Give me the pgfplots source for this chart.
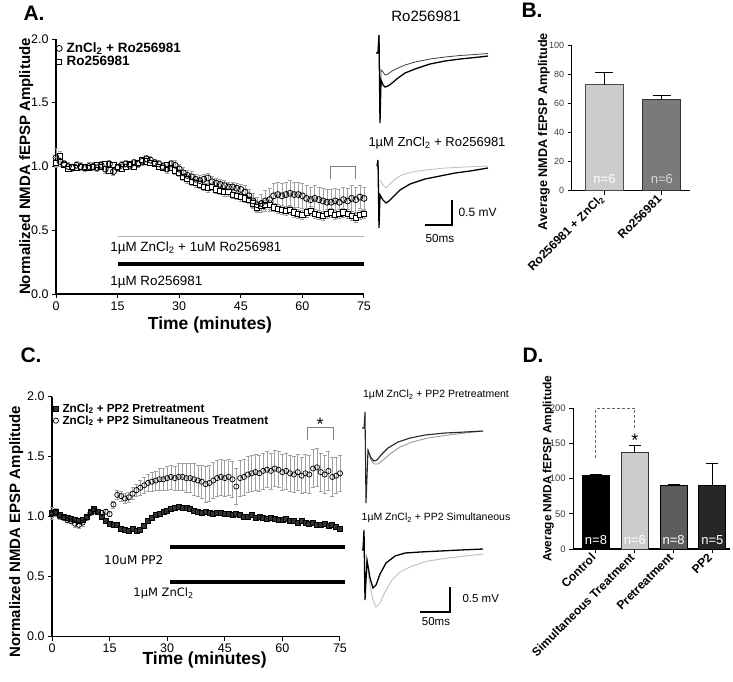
\documentclass[border=0pt]{standalone}
\usepackage{fontspec}
\setmainfont{Liberation Sans}
\newfontfamily\dejavu{DejaVu Sans}
\usepackage{pgfplots}
\usepackage{pgfplotstable}
\pgfplotsset{compat=1.18}
\newcommand{\fs}[1]{\fontsize{#1}{#1}\selectfont}
\definecolor{barlt}{HTML}{CCCCCC}
\definecolor{bardk}{HTML}{7A7A7A}
\definecolor{barpre}{HTML}{5C5C5C}
\definecolor{barpp}{HTML}{262626}
\definecolor{errg}{HTML}{A0A0A0}

\pgfplotstableread{
t a ea b eb
0 1.07 0.07 1.03 0.04
1 1.04 0.04 1.08 0.04
2 1.02 0.03 1.01 0.02
3 1.00 0.03 0.98 0.02
4 0.99 0.03 1.00 0.02
5 1.01 0.03 0.99 0.02
6 1.00 0.03 1.00 0.02
7 0.99 0.03 1.00 0.02
8 1.00 0.03 0.99 0.02
9 1.00 0.03 1.00 0.02
10 0.99 0.03 1.01 0.02
11 1.01 0.03 1.00 0.02
12 0.98 0.03 1.02 0.02
13 1.02 0.03 0.97 0.02
14 0.96 0.03 1.01 0.02
15 0.99 0.03 1.00 0.02
16 1.01 0.03 0.98 0.02
17 1.02 0.03 1.00 0.02
18 1.01 0.03 1.02 0.02
19 1.03 0.03 1.00 0.02
20 1.02 0.03 1.03 0.02
21 1.04 0.03 1.05 0.02
22 1.06 0.03 1.04 0.02
23 1.05 0.03 1.03 0.02
24 1.03 0.03 1.02 0.02
25 1.02 0.03 1.00 0.02
26 1.00 0.03 0.99 0.02
27 0.98 0.03 1.01 0.02
28 1.02 0.03 0.99 0.02
29 1.01 0.04 0.97 0.03
30 0.98 0.04 0.95 0.03
31 0.95 0.04 0.92 0.03
32 0.93 0.04 0.90 0.03
33 0.92 0.04 0.88 0.03
34 0.90 0.04 0.87 0.03
35 0.89 0.04 0.86 0.03
36 0.90 0.04 0.84 0.03
37 0.91 0.04 0.83 0.03
38 0.88 0.04 0.84 0.03
39 0.87 0.04 0.82 0.03
40 0.86 0.04 0.81 0.03
41 0.85 0.04 0.80 0.03
42 0.84 0.04 0.80 0.03
43 0.84 0.04 0.78 0.03
44 0.83 0.04 0.77 0.03
45 0.82 0.04 0.76 0.03
46 0.80 0.05 0.75 0.03
47 0.77 0.05 0.74 0.03
48 0.73 0.06 0.71 0.03
49 0.70 0.06 0.68 0.035
50 0.71 0.07 0.69 0.035
51 0.73 0.08 0.70 0.035
52 0.74 0.09 0.70 0.035
53 0.77 0.10 0.68 0.035
54 0.78 0.10 0.67 0.035
55 0.77 0.10 0.66 0.035
56 0.78 0.10 0.65 0.035
57 0.79 0.10 0.66 0.035
58 0.78 0.10 0.64 0.035
59 0.78 0.10 0.63 0.035
60 0.77 0.10 0.62 0.035
61 0.75 0.10 0.64 0.035
62 0.74 0.10 0.65 0.035
63 0.75 0.10 0.63 0.035
64 0.74 0.10 0.62 0.035
65 0.73 0.10 0.61 0.035
66 0.72 0.10 0.63 0.035
67 0.72 0.10 0.64 0.035
68 0.73 0.10 0.62 0.035
69 0.72 0.10 0.63 0.035
70 0.74 0.10 0.64 0.035
71 0.73 0.10 0.63 0.035
72 0.75 0.10 0.61 0.035
73 0.74 0.10 0.60 0.035
74 0.76 0.09 0.62 0.035
75 0.75 0.09 0.63 0.035
}\tabA

\pgfplotstableread{
t p ep s es
0 1.03 0.05 1.02 0.03
1 1.04 0.03 1.03 0.03
2 1.01 0.02 1.00 0.02
3 1.00 0.02 0.99 0.02
4 0.99 0.02 0.97 0.02
5 0.98 0.02 0.96 0.02
6 0.97 0.02 0.94 0.03
7 0.96 0.02 0.93 0.03
8 0.97 0.02 0.95 0.03
9 1.00 0.02 0.99 0.02
10 1.04 0.02 1.03 0.02
11 1.06 0.02 1.05 0.02
12 1.04 0.02 1.04 0.02
13 1.00 0.02 1.03 0.02
14 0.96 0.02 1.04 0.02
15 0.94 0.02 1.02 0.02
16 0.93 0.02 1.10 0.03
17 0.93 0.02 1.18 0.04
18 0.90 0.02 1.17 0.04
19 0.89 0.02 1.15 0.04
20 0.88 0.02 1.16 0.04
21 0.90 0.02 1.19 0.05
22 0.88 0.02 1.22 0.05
23 0.89 0.02 1.24 0.06
24 0.92 0.02 1.26 0.07
25 0.96 0.02 1.28 0.07
26 0.99 0.02 1.29 0.08
27 1.01 0.02 1.30 0.08
28 1.02 0.02 1.31 0.09
29 1.04 0.02 1.31 0.09
30 1.05 0.02 1.32 0.10
31 1.06 0.02 1.33 0.10
32 1.07 0.02 1.32 0.10
33 1.08 0.02 1.33 0.11
34 1.07 0.02 1.33 0.11
35 1.07 0.02 1.32 0.12
36 1.06 0.02 1.32 0.12
37 1.05 0.02 1.31 0.13
38 1.04 0.02 1.30 0.13
39 1.03 0.02 1.29 0.14
40 1.04 0.02 1.27 0.15
41 1.03 0.02 1.28 0.15
42 1.02 0.02 1.30 0.15
43 1.03 0.02 1.32 0.15
44 1.03 0.02 1.33 0.15
45 1.02 0.02 1.32 0.15
46 1.02 0.02 1.33 0.15
47 1.01 0.02 1.31 0.15
48 1.02 0.02 1.25 0.15
49 1.01 0.02 1.32 0.15
50 1.00 0.02 1.33 0.15
51 1.00 0.02 1.35 0.15
52 1.01 0.02 1.36 0.15
53 0.99 0.02 1.37 0.15
54 1.00 0.02 1.36 0.15
55 0.99 0.02 1.38 0.15
56 0.98 0.02 1.39 0.15
57 0.99 0.02 1.38 0.15
58 0.98 0.02 1.40 0.15
59 0.97 0.02 1.39 0.15
60 0.97 0.02 1.37 0.15
61 0.98 0.02 1.38 0.15
62 0.96 0.02 1.36 0.15
63 0.96 0.02 1.35 0.15
64 0.95 0.02 1.37 0.15
65 0.96 0.02 1.34 0.15
66 0.95 0.02 1.36 0.16
67 0.94 0.02 1.35 0.16
68 0.95 0.02 1.40 0.16
69 0.93 0.02 1.41 0.16
70 0.93 0.02 1.37 0.16
71 0.94 0.02 1.35 0.16
72 0.92 0.02 1.38 0.16
73 0.93 0.02 1.33 0.16
74 0.91 0.02 1.34 0.15
75 0.90 0.02 1.36 0.15
}\tabC

\pgfplotsset{
  panel/.style={scale only axis, axis lines*=left,
    axis line style={-, line width=1.1pt},
    tick align=outside, tick pos=left, major tick length=4pt,
    tick style={black, line width=1pt},
    /pgf/number format/assume math mode=true, clip=false},
  errs/.style={error bars/.cd, y dir=both, y explicit,
    error bar style={errg, line width=0.6pt},
    error mark options={rotate=90, errg, mark size=2pt, line width=0.6pt}},
  barerr/.style={error bars/.cd, y dir=plus, y explicit,
    error bar style={black, line width=1pt},
    error mark options={rotate=90, black, mark size=#1, line width=1pt}},
}

\begin{document}
\begin{tikzpicture}
\path[use as bounding box, fill=white] (0pt,0pt) rectangle (733pt,-681pt);

% ---------------- Panel A ----------------
\begin{axis}[panel, at={(56pt,-294pt)}, anchor=south west,
  width=308pt, height=255pt, xmin=0, xmax=75, ymin=0, ymax=2,
  xtick={0,15,30,45,60,75}, ytick={0,0.5,1,1.5,2},
  ticklabel style={font=\fs{12.5}},
  yticklabel style={/pgf/number format/.cd, fixed, fixed zerofill, precision=1},
  xlabel={Time (minutes)}, ylabel={Normalized NMDA fEPSP Amplitude},
  xlabel style={font=\bfseries\fs{17.5}, at={(rel axis cs:0.5,-0.122)}, anchor=center},
  ylabel style={font=\bfseries\fs{15}, at={(rel axis cs:-0.097,0.5)}, anchor=center},
  reverse legend,
  legend style={at={(rel axis cs:0.0,0.99)}, anchor=north west, draw=none, fill=none,
    font=\bfseries\fs{13.5}, row sep=0pt, inner sep=0pt, nodes={inner xsep=4.5pt, inner ysep=1pt}},
  legend cell align=left]
\addplot[gray!60, line width=1.4pt, forget plot] coordinates {(15,0.45) (75,0.45)};
\addplot[black, line width=4pt, forget plot] coordinates {(15,0.235) (75,0.235)};
\addplot[only marks, mark=square*, mark size=2.6pt,
  mark options={fill=white, draw=black, line width=0.8pt}, errs]
  table[x=t, y=b, y error=eb]{\tabA};
\addlegendentry{Ro256981}
\addplot[only marks, mark=o, mark size=3pt,
  mark options={fill=white, draw=black, line width=0.8pt}, errs]
  table[x=t, y=a, y error=ea]{\tabA};
\addlegendentry{ZnCl\textsubscript{2} + Ro256981}
\draw[gray, line width=0.8pt] (axis cs:66.7,0.9) -- (axis cs:66.7,1.0) -- (axis cs:72.8,1.0) -- (axis cs:72.8,0.9);
\node[anchor=west, font=\fs{13.4}] at (axis cs:12.4,0.36) {1µM ZnCl\textsubscript{2} + 1uM Ro256981};
\node[anchor=west, font=\fs{13.4}] at (axis cs:12.4,0.095) {1µM Ro256981};
\end{axis}

% ---------------- Panel B ----------------
\begin{axis}[panel, at={(571.7pt,-190.7pt)}, anchor=south west,
  width=118.3pt, height=145pt, xmin=-0.571, xmax=1.49, ymin=0, ymax=100,
  ytick={0,20,40,60,80,100}, xtick={0,1},
  xticklabels={Ro256981 + ZnCl\textsubscript{2}, Ro256981},
  xticklabel style={rotate=45, anchor=east, font=\bfseries\fs{12}},
  yticklabel style={font=\fs{9}, text=black!75},
  ylabel={Average NMDA fEPSP Amplitude},
  ylabel style={font=\bfseries\fs{12.6}, at={(rel axis cs:-0.235,0.407)}, anchor=center}]
\addplot[ybar, bar width=38pt, bar shift=0pt, fill=barlt, draw=black!70, line width=0.8pt, barerr=9pt]
  coordinates {(0,73) +- (0,8.5)};
\addplot[ybar, bar width=38pt, bar shift=0pt, fill=bardk, draw=black!80, line width=0.8pt, barerr=9pt]
  coordinates {(1,62.7) +- (0,2.8)};
\node[white, font=\fs{13}] at (axis cs:0,8) {n=6};
\node[white!85!black, font=\fs{13}] at (axis cs:1,8) {n=6};
\end{axis}

% ---------------- Panel C ----------------
\begin{axis}[panel, at={(52pt,-636.5pt)}, anchor=south west,
  width=288pt, height=240pt, xmin=0, xmax=75, ymin=0, ymax=2,
  xtick={0,15,30,45,60,75}, ytick={0,0.5,1,1.5,2},
  ticklabel style={font=\fs{12.5}},
  yticklabel style={/pgf/number format/.cd, fixed, fixed zerofill, precision=1},
  xlabel={Time (minutes)}, ylabel={Normalized NMDA EPSP Amplitude},
  xlabel style={font=\bfseries\fs{17.5}, at={(rel axis cs:0.53,-0.098)}, anchor=center},
  ylabel style={font=\bfseries\fs{15}, at={(rel axis cs:-0.124,0.437)}, anchor=center},
  legend style={at={(rel axis cs:0.004,0.975)}, anchor=north west, draw=none, fill=none,
    font=\bfseries\fs{11.7}, row sep=0pt, inner sep=0pt, nodes={inner xsep=4pt, inner ysep=1pt}},
  legend cell align=left]
\addplot[black, line width=4pt, forget plot] coordinates {(30.7,0.75) (76.3,0.75)};
\addplot[black, line width=4pt, forget plot] coordinates {(30.7,0.457) (76.3,0.457)};
\addplot[only marks, mark=square*, mark size=2.5pt,
  mark options={fill=black!80, draw=black, line width=0.7pt}, errs]
  table[x=t, y=p, y error=ep]{\tabC};
\addlegendentry{ZnCl\textsubscript{2} + PP2 Pretreatment}
\addplot[only marks, mark=o, mark size=2.6pt,
  mark options={fill=white, draw=black, line width=0.7pt}, errs]
  table[x=t, y=s, y error=es]{\tabC};
\addlegendentry{ZnCl\textsubscript{2} + PP2 Simultaneous Treatment}
\draw[gray, line width=0.8pt] (axis cs:66.4,1.64) -- (axis cs:66.4,1.74) -- (axis cs:73.2,1.74) -- (axis cs:73.2,1.64);
\node[font=\fs{18}] at (axis cs:69.8,1.77) {*};
\node[anchor=east, font=\dejavu\fs{12}] at (axis cs:29.9,0.64) {10uM PP2};
\node[anchor=west, font=\dejavu\fs{11.5}] at (axis cs:20.3,0.36) {1µM ZnCl\textsubscript{2}};
\end{axis}

% ---------------- Panel D ----------------
\begin{axis}[panel, at={(573.3pt,-549pt)}, anchor=south west,
  width=156.7pt, height=140.7pt, xmin=-0.585, xmax=3.455, ymin=0, ymax=200,
  ytick={0,50,100,150,200}, xtick={0,1,2,3},
  xticklabels={Control, Simultaneous Treatment, Pretreatment, PP2},
  xticklabel style={rotate=45, anchor=east, font=\bfseries\fs{12}},
  yticklabel style={font=\fs{9.5}, text=black!75},
  ylabel={Average NMDA fEPSP Amplitude},
  ylabel style={font=\bfseries\fs{11.9}, at={(rel axis cs:-0.16,0.57)}, anchor=center}]
\addplot[ybar, bar width=27pt, bar shift=0pt, fill=black, draw=black, line width=0.8pt, barerr=6pt]
  coordinates {(0,105) +- (0,1.5)};
\addplot[ybar, bar width=27pt, bar shift=0pt, fill=barlt, draw=black!80, line width=0.8pt, barerr=6pt]
  coordinates {(1,137) +- (0,10.5)};
\addplot[ybar, bar width=27pt, bar shift=0pt, fill=barpre, draw=black, line width=0.8pt, barerr=6pt]
  coordinates {(2,90) +- (0,2)};
\addplot[ybar, bar width=27pt, bar shift=0pt, fill=barpp, draw=black, line width=0.8pt, barerr=6pt]
  coordinates {(3,90) +- (0,31)};
\draw[densely dashed, line width=1pt, black!60] (axis cs:0,130) -- (axis cs:0,200) -- (axis cs:1,200) -- (axis cs:1,172);
\node[font=\fs{18}] at (axis cs:1,155) {*};
\node[white, font=\fs{13}] at (axis cs:0,13) {n=8};
\node[white, font=\fs{13}] at (axis cs:1,13) {n=6};
\node[white, font=\fs{13}] at (axis cs:2,13) {n=8};
\node[white, font=\fs{13}] at (axis cs:3,13) {n=5};
\end{axis}

% ---------------- Traces and labels (pixel-unit overlay) ----------------
\begin{axis}[at={(0pt,-681pt)}, anchor=south west, scale only axis,
  width=733pt, height=681pt, xmin=0, xmax=733, ymin=0, ymax=681,
  y dir=reverse, hide axis, clip=false]
% A top traces
\addplot[black!75, line width=0.8pt] coordinates {(376,53) (378,53) (379,35) (380,120) (381,70) (383,72) (385,75) (388,74) (392,71) (398,68) (405,65) (415,62) (430,59) (445,57) (460,55.5) (475,54.5) (488,53.5)};
\addplot[black, line width=1.3pt] coordinates {(376,53) (378,53) (379,35) (380,123) (381,80) (383,85) (385,87) (388,86) (392,83) (398,78) (405,73) (415,69) (430,64) (445,61) (460,59) (475,57.5) (488,56)};
% A bottom traces
\addplot[black!25, line width=0.8pt] coordinates {(380,180) (383,185) (386,188) (390,184) (395,179) (402,175) (412,172) (425,170) (445,168) (465,167) (488,166)};
\addplot[black, line width=1.3pt] coordinates {(377,166) (378,160) (379,228) (380,195) (383,200) (386,203) (389,201) (393,197) (400,190) (410,184) (425,179) (440,176) (455,173) (470,171) (488,168)};
\addplot[black, line width=1.2pt] coordinates {(425,225) (452,225) (452,200)};
% C top traces
\addplot[black!40, line width=0.9pt] coordinates {(368,452) (371,460) (374,464) (378,464) (383,460) (390,454) (400,447) (412,442) (428,438) (448,435) (465,433) (483,431)};
\addplot[black!85, line width=1.1pt] coordinates {(362,428) (364,428) (365,412) (366,503) (368,450) (371,458) (374,461) (377,460) (381,455) (388,448) (398,442) (410,438) (425,435) (445,433) (465,432) (483,431)};
% C bottom traces
\addplot[black!25, line width=0.9pt] coordinates {(367,565) (370,585) (373,600) (376,607) (380,603) (385,592) (392,580) (400,572) (412,566) (428,561) (448,558) (465,556) (483,554)};
\addplot[black, line width=1.3pt] coordinates {(362,550) (363,550) (364,530) (365,600) (367,560) (370,578) (373,588) (376,585) (380,574) (386,563) (395,556) (405,553) (420,552) (440,551) (460,550) (483,549)};
\addplot[black, line width=1.2pt] coordinates {(420,612) (450,612) (450,587)};
% texts
\node[font=\fs{15}] at (axis cs:426,16) {Ro256981};
\node[font=\fs{13}] at (axis cs:437,143) {1µM ZnCl\textsubscript{2} + Ro256981};
\node[anchor=west, font=\fs{12}] at (axis cs:455,212) {0.5 mV};
\node[font=\fs{11.7}] at (axis cs:440,238) {50ms};
\node[font=\fs{10.5}] at (axis cs:436,395) {1µM ZnCl\textsubscript{2} + PP2 Pretreatment};
\node[font=\fs{10.5}] at (axis cs:436,518) {1µM ZnCl\textsubscript{2} + PP2 Simultaneous};
\node[anchor=west, font=\fs{11.5}] at (axis cs:459,599) {0.5 mV};
\node[font=\fs{11.5}] at (axis cs:436,622) {50ms};
\node[font=\bfseries\fs{21}] at (axis cs:34,13) {A.};
\node[font=\bfseries\fs{21}] at (axis cs:532,10) {B.};
\node[font=\bfseries\fs{21}] at (axis cs:31,355) {C.};
\node[font=\bfseries\fs{21}] at (axis cs:533,355) {D.};
\end{axis}
\end{tikzpicture}
\end{document}
